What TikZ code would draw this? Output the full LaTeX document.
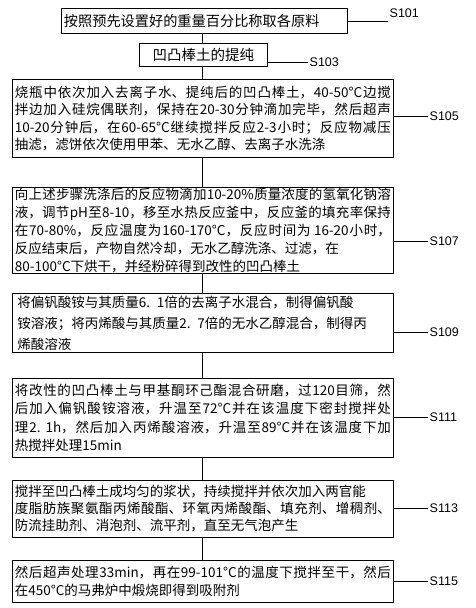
\documentclass[tikz,border=0pt]{standalone}
\usepackage{fontspec}
\setmainfont{Liberation Sans}
\newfontfamily\cjk{Noto Sans CJK SC}
\XeTeXlinebreaklocale "zh"
\XeTeXlinebreakskip=0pt plus 4pt minus 1.2pt
\hbadness=10000
\hfuzz=20pt
\tolerance=9999
\tikzset{
  box/.style={draw, line width=0.8pt, anchor=north west, inner xsep=2.5pt, inner ysep=0pt},
  wide/.style={box, minimum width=381pt, text width=376pt, align=justify},
  cjkfont/.style={font=\cjk\fontsize{13.5}{#1}\selectfont},
  lab/.style={anchor=west, inner sep=1.5pt, font=\fontsize{12.5}{14}\selectfont},
  link/.style={line width=0.8pt}
}
\begin{document}
\begin{tikzpicture}[x=1pt,y=-1pt]
\useasboundingbox (0,0) rectangle (475,608);
\coordinate (sp) at (202,0);

\node[box, font=\cjk\fontsize{14.2}{17}\selectfont, minimum width=286pt, minimum height=25pt, text width=281pt, align=left] (b1) at (61,8) {按照预先设置好的重量百分比称取各原料};
\node[box, font=\cjk\fontsize{14.5}{17}\selectfont, minimum width=128pt, minimum height=23pt, align=center] (b2) at (139,43) {凹凸棒土的提纯};
\node[wide, cjkfont=17.3, minimum height=78pt] (b3) at (12,79) {烧瓶中依次加入去离子水、提纯后的凹凸棒土，40-50°C边搅\linebreak
拌边加入硅烷偶联剂，保持在20-30分钟滴加完毕，然后超声\linebreak
10-20分钟后，在60-65°C继续搅拌反应2-3小时；反应物减压\linebreak
抽滤，滤饼依次使用甲苯、无水乙醇、去离子水洗涤};
\node[wide, cjkfont=18, minimum height=86pt] (b4) at (12,187) {向上述步骤洗涤后的反应物滴加10-20\%质量浓度的氢氧化钠溶\linebreak
液，调节pH至8-10，移至水热反应釜中，反应釜的填充率保持\linebreak
在70-80\%，反应温度为160-170°C，反应时间为 16-20小时，\linebreak
反应结束后，产物自然冷却，无水乙醇洗涤、过滤，在\\
80-100°C下烘干，并经粉碎得到改性的凹凸棒土};
\node[box, cjkfont=21, minimum width=381pt, text width=371pt, inner xsep=5pt, align=left, minimum height=59pt] (b5) at (12,293) {将偏钒酸铵与其质量6. 1倍的去离子水混合，制得偏钒酸\\
铵溶液；将丙烯酸与其质量2. 7倍的无水乙醇混合，制得丙\\
烯酸溶液};
\node[wide, cjkfont=18.3, minimum height=79pt] (b6) at (12,378) {将改性的凹凸棒土与甲基酮环己酯混合研磨，过120目筛，然\linebreak
后加入偏钒酸铵溶液，升温至72°C并在该温度下密封搅拌处\linebreak
理2. 1h，然后加入丙烯酸溶液，升温至89°C并在该温度下加\linebreak
热搅拌处理15min};
\node[wide, cjkfont=17, minimum height=57pt] (b7) at (12,480) {搅拌至凹凸棒土成均匀的浆状，持续搅拌并依次加入两官能\\
度脂肪族聚氨酯丙烯酸酯、环氧丙烯酸酯、填充剂、增稠剂、\linebreak
防流挂助剂、消泡剂、流平剂，直至无气泡产生};
\node[wide, cjkfont=18, minimum height=42pt] (b8) at (12,560) {然后超声处理33min，再在99-101°C的温度下搅拌至干，然后\linebreak
在450°C的马弗炉中煅烧即得到吸附剂};

\draw[link] (b1.south -| sp) -- (b2.north -| sp);
\draw[link] (b2.south -| sp) -- (b3.north -| sp);
\draw[link] (b3.south -| sp) -- (b4.north -| sp);
\draw[link] (b4.south -| sp) -- (b5.north -| sp);
\draw[link] (b5.south -| sp) -- (b6.north -| sp);
\draw[link] (b6.south -| sp) -- (b7.north -| sp);
\draw[link] (b7.south -| sp) -- (b8.north -| sp);

\coordinate (e1) at (388,21);
\node[lab] (l1) at (388,13) {S101};
\draw[link] (b1.east |- e1) -- (e1);
\node[lab] (l2) at (308,62) {S103};
\draw[link] (l2.west -| b2.east) -- (l2.west);
\node[lab] (l3) at (428,116) {S105};
\draw[link] (l3.west -| b3.east) -- (l3.west);
\node[lab] (l4) at (428,241) {S107};
\draw[link] (l4.west -| b4.east) -- (l4.west);
\node[lab] (l5) at (428,332) {S109};
\draw[link] (l5.west -| b5.east) -- (l5.west);
\node[lab] (l6) at (428,417) {S111};
\draw[link] (l6.west -| b6.east) -- (l6.west);
\node[lab] (l7) at (428,508) {S113};
\draw[link] (l7.west -| b7.east) -- (l7.west);
\node[lab] (l8) at (428,581) {S115};
\draw[link] (l8.west -| b8.east) -- (l8.west);
\end{tikzpicture}
\end{document}
